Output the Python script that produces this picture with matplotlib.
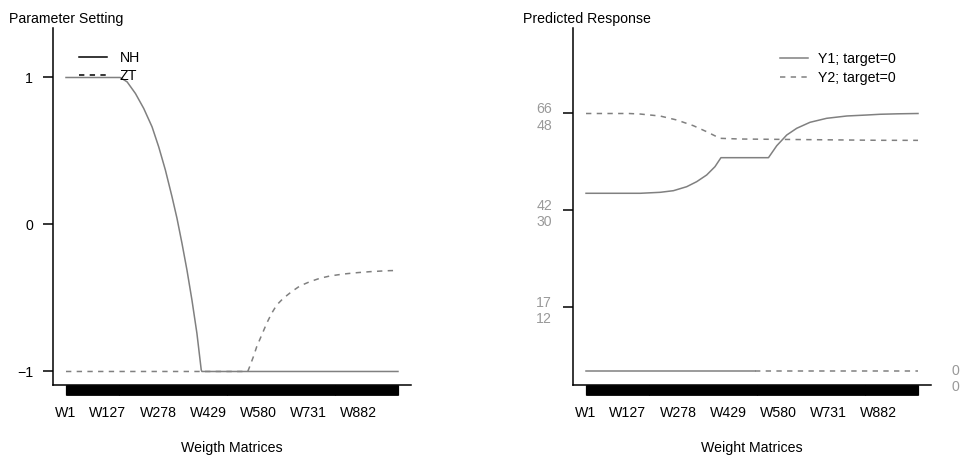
import numpy as np
import matplotlib
matplotlib.use('Agg')
import matplotlib.pyplot as plt
import matplotlib.transforms as mtransforms
from matplotlib.lines import Line2D

plt.rcParams['font.family'] = ['Liberation Sans', 'DejaVu Sans']
plt.rcParams['font.size'] = 10.2

# 가중치 행렬 개수와 x축 라벨
n_mat = 1000
xtick_pos = [1, 127, 278, 429, 580, 731, 882]
xtick_lab = ['W' + str(i) for i in xtick_pos]

# 파라미터 설정값 (NH, ZT)
nh_idx = [1, 164, 185, 210, 235, 260, 280, 300, 320, 335, 350, 365, 380, 395, 408, 410, 1000]
nh_val = [1, 1, 0.970, 0.891, 0.789, 0.664, 0.528, 0.371, 0.189, 0.042, -0.128, -0.310,
          -0.514, -0.741, -0.990, -1, -1]
zt_idx = [1, 548, 555, 565, 575, 590, 605, 620, 635, 655, 680, 705, 735, 765, 796, 836,
          876, 916, 956, 976, 1000]
zt_val = [-1, -1, -0.96, -0.899, -0.831, -0.752, -0.672, -0.604, -0.548, -0.502, -0.457,
          -0.418, -0.389, -0.366, -0.350, -0.337, -0.328, -0.321, -0.316, -0.314, -0.313]

# 예측 반응값 (Y1, Y2)
y1_idx = [1, 164, 224, 264, 304, 334, 364, 389, 407, 550, 575, 605, 635, 675, 725, 786,
          846, 886, 940, 1000]
y1_val = [45.85, 45.85, 46.10, 46.52, 47.55, 48.84, 50.56, 52.70, 55.02, 55.02, 58.11,
          60.86, 62.59, 64.13, 65.16, 65.76, 66.01, 66.2, 66.32, 66.4]
y2_idx = [1, 130, 164, 224, 274, 324, 364, 404, 464, 886, 1000]
y2_val = [48.0, 48.0, 47.9, 47.53, 46.79, 45.73, 44.61, 43.38, 43.25, 43.01, 43.0]
target_split = 510

# 오른쪽 그림의 눈금 위치 (최대값 대비 비율)
resp_ticks = [0.25, 0.625, 1.0]

grey = '#808080'
light = '#999999'
dash = (0, (3.5, 3.5))

fig = plt.figure(figsize=(9.6, 4.57), dpi=100)
ax1 = fig.add_axes([0.0549, 0.1582, 0.3735, 0.7816])
ax2 = fig.add_axes([0.5966, 0.1586, 0.3735, 0.7799])


def style_axis(ax):
    ax.spines[['top', 'right']].set_visible(False)
    for s in ['left', 'bottom']:
        ax.spines[s].set_linewidth(1.1)
    ax.set_xlim(-39, 1040)
    ax.set_xticks(xtick_pos, xtick_lab)
    ax.set_xticks(np.arange(1, n_mat + 1), minor=True)
    ax.tick_params(axis='x', which='both', length=7, width=0.8, pad=8.5)
    ax.tick_params(axis='y', length=7, width=1.1, pad=7)


# 왼쪽: 파라미터 설정
style_axis(ax1)
ax1.plot(nh_idx, nh_val, color=grey, lw=1.1)
ax1.plot(zt_idx, zt_val, color=grey, lw=1.1, ls=dash)
ax1.set_ylim(-1.09, 1.34)
ax1.set_yticks([-1, 0, 1])
ax1.set_xlabel('Weigth Matrices', labelpad=15)
handles = [Line2D([], [], color='black', lw=1.1),
           Line2D([], [], color='black', lw=1.1, ls=dash)]
ax1.legend(handles, ['NH', 'ZT'], loc='upper left', bbox_to_anchor=(0.073, 0.935),
           frameon=False, borderpad=0, borderaxespad=0, handlelength=2.0,
           handletextpad=0.9, labelspacing=0.3)

# 오른쪽: 예측 반응 (각각 최대값으로 정규화)
style_axis(ax2)
y1 = np.array(y1_val)
y2 = np.array(y2_val)
ax2.plot(y1_idx, y1 / y1.max(), color=grey, lw=1.1, label='Y1; target=0')
ax2.plot(y2_idx, y2 / y2.max(), color=grey, lw=1.1, ls=dash, label='Y2; target=0')
ax2.plot([1, target_split], [0, 0], color=grey, lw=1.1)
ax2.plot([target_split, n_mat], [0, 0], color=grey, lw=1.1, ls=dash)
ax2.set_ylim(-0.0512, 1.3312)
labels = [f'{round(t * y1.max())}\n{round(t * y2.max())}' for t in resp_ticks]
ax2.set_yticks(resp_ticks, labels)
ax2.tick_params(axis='y', labelcolor=light, pad=8)
shift = mtransforms.ScaledTranslation(0, -1.5 / 100, fig.dpi_scale_trans)
for lbl in ax2.get_yticklabels():
    lbl.set_transform(lbl.get_transform() + shift)
ax2.set_xlabel('Weight Matrices', labelpad=15)
ax2.legend(loc='upper left', bbox_to_anchor=(0.578, 0.932), frameon=False,
           borderpad=0, borderaxespad=0, handlelength=2.0, handletextpad=0.7,
           labelspacing=0.3)

# 오른쪽 축의 최소값 표시
trans = mtransforms.blended_transform_factory(ax2.transAxes, ax2.transData)
ax2.text(1.0675, 0, '0', transform=trans, ha='center', va='center', color=light)
ax2.annotate('0', xy=(1.0675, 0), xycoords=trans, xytext=(0, -11.5),
             textcoords='offset points', ha='center', va='center', color=light,
             annotation_clip=False)

fig.text(8.7 / 960, 1 - 19 / 457, 'Parameter Setting', ha='left', va='center')
fig.text(523.3 / 960, 1 - 19 / 457, 'Predicted Response', ha='left', va='center')

fig.savefig('out.png', dpi=100)
